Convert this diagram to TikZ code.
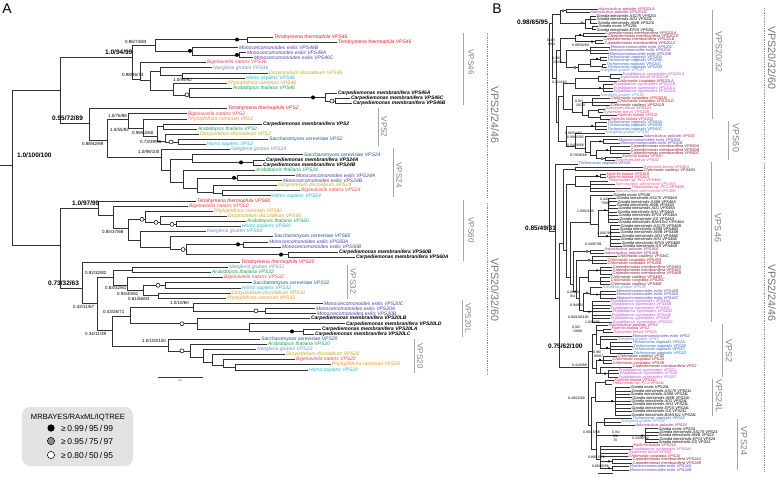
\documentclass[tikz,border=0pt]{standalone}
\usepackage{fontspec}
\setmainfont{Liberation Sans}
\usepackage{tikz}

% species colours, panel A
\definecolor{cAtet}{HTML}{E31A1C}
\definecolor{cAbig}{HTML}{F0454F}
\definecolor{cAmon}{HTML}{5238A8}
\definecolor{cAnae}{HTML}{6E8FD6}
\definecolor{cAdic}{HTML}{BFA512}
\definecolor{cAhom}{HTML}{1EB4D4}
\definecolor{cAphy}{HTML}{F7901E}
\definecolor{cAara}{HTML}{17A04C}
\definecolor{cAcar}{HTML}{000000}
\definecolor{cAsac}{HTML}{1E4EA0}
% species colours, panel B
\definecolor{cBadu}{HTML}{9E1E8C}
\definecolor{cBgia}{HTML}{000000}
\definecolor{cBgmu}{HTML}{000000}
\definecolor{cBcar}{HTML}{8A1538}
\definecolor{cBmon}{HTML}{5A3DB5}
\definecolor{cBtri}{HTML}{2E62C0}
\definecolor{cBnae}{HTML}{6A92DA}
\definecolor{cBerg}{HTML}{B94DD6}
\definecolor{cBdys}{HTML}{EC3E97}
\definecolor{cBccu}{HTML}{B3141E}
\definecolor{cBcca}{HTML}{5E2323}
\definecolor{cBkip}{HTML}{E81E52}
\definecolor{cBtre}{HTML}{E43670}
\definecolor{cBspi}{HTML}{F0559A}

\newcommand{\nmtet}{Tetrahymena thermophila}
\newcommand{\nmbig}{Bigelowiella natans}
\newcommand{\nmmon}{Monocercomonoides exilis}
\newcommand{\nmnae}{Naegleria gruberi}
\newcommand{\nmdic}{Dictyostelium discoideum}
\newcommand{\nmhom}{Homo sapiens}
\newcommand{\nmphy}{Phytophthora ramorum}
\newcommand{\nmara}{Arabidopsis thaliana}
\newcommand{\nmcar}{Carpediemonas membranifera}
\newcommand{\nmsac}{Saccharomyces cerevisiae}
\newcommand{\nmadu}{Aduncisulcus paluster}
\newcommand{\nmgia}{Giardia intestinalis}
\newcommand{\nmgmu}{Giardia muris}
\newcommand{\nmtri}{Trichomonas vaginalis}
\newcommand{\nmerg}{Ergobibamus cyprinoides}
\newcommand{\nmdys}{Dysnectes brevis}
\newcommand{\nmccu}{Chilomastix cuspidata}
\newcommand{\nmcca}{Chilomastix caulleryi}
\newcommand{\nmkip}{Kipferlia bialata}
\newcommand{\nmtre}{Trepomonas sp.\ PC1}
\newcommand{\nmspi}{Spironucleus salmonicida}
\newcommand{\fAcar}{\bfseries}

\tikzset{
  br/.style={draw=black!80, line width=0.6pt},
  brB/.style={draw=black!80, line width=0.5pt},
  lfA/.style={anchor=west, inner sep=0.8pt, font=\fontsize{5}{5.5}\selectfont\itshape},
  lfB/.style={anchor=west, inner sep=0.5pt, font=\fontsize{3.9}{4}\selectfont\itshape},
  supp/.style={anchor=west, inner sep=0pt, font=\fontsize{4.5}{5}\selectfont},
  suppB/.style={anchor=west, inner sep=0pt, font=\fontsize{3.5}{3.6}\selectfont},
  suppbf/.style={anchor=west, inner sep=0pt, font=\fontsize{6.5}{7}\selectfont\bfseries},
  cbar/.style={draw=black!35, line width=0.7pt},
  bigbar/.style={draw=black!45, line width=0.8pt, densely dotted},
  clab/.style={rotate=-90, inner sep=0pt, text=black!50, font=\fontsize{8}{9}\selectfont},
  clabB/.style={clab, font=\fontsize{9}{10}\selectfont},
  biglab/.style={rotate=-90, inner sep=0pt, text=black!55, font=\fontsize{10.7}{11}\selectfont},
  dotk/.style={fill=black},
  dotw/.style={draw=black, fill=white, line width=0.5pt},
}

\begin{document}
\begin{tikzpicture}[x=1pt,y=-1pt]
    \useasboundingbox (0,0) rectangle (778,476);
    \node[font=\fontsize{14}{14}\selectfont] (panA) at (7,9) {A};
    \node[font=\fontsize{14}{14}\selectfont] (panB) at (497,9) {B};

    % ---------------- panel A ----------------
    \begin{scope}[y=-5.12pt, yshift=-37pt]
    \foreach \n/\x/\k in {rA/12/25, u/60/10.5, v/60/40.6, n46/132/3.9, n46a/155/1.6, nTet/247/0.5,
        nMono/192/2.7, nMono2/239/3.5, n46b/140/8.2, nY/150/8.5, nNDH/160/6.7, nDH/182/7.5,
        nPAC/173/10.4, nAC/189/11.3, nC46/325/11.8, nC46b/335/12.5, nA224/89/16.8, nAB/107/20.2,
        nV2/128/16, nV2b/143/17.8, nV2c/157/19.4, nCA/163/17.5, nDSH/165/20.3, nSH/178/20.5,
        nV24/161/23.4, n24r/170/26, n24s/192/23.8, nC24/253/24.5, n24t/183/28.3, n24u/197/29.5,
        nM24/237/27.5, n24v/213/30.3, n24w/222/30.5, nV60/98/33.4, nV60b/113/34.8, nV60c/128/37.3,
        nA/145/35.6, nA2/160/36.2, nA3/176/36.6, nB60/140/39.8, nB2/170/41, nB3/186/41.5,
        nM60/243/40.5, nC60/288/42.5, nV2032/82/49, nW/97/52, nV32/113/47, nNA/132/45.5,
        nV32b/127/48.4, nV32c/143/49.5, nSH32/165/48.5, nDP/158/50.5, nX20/112/57.2, nL/130/54.5,
        nMono20/193/52.8, nM20b/265/53.5, nCL/197/56, nCL2/249/57, nCL3/303/57.5, n20/168/60.5,
        n20a/190/61.3, n20b/203/62.5, n20c/212/63.5, n20d/223/64.2, n20e/235/64.5}
        \coordinate (\n) at (\x,\k);
    \coordinate (rA0) at (0,25);
    \draw[br] (rA0) -- (rA);
    \foreach \p/\c in {rA/u, rA/v, u/n46, u/nA224, n46/n46a, n46/n46b, n46a/nTet, n46a/nMono,
        nMono/nMono2, n46b/nY, nY/nNDH, nY/nPAC, nNDH/nDH, nPAC/nAC, nAC/nC46, nC46/nC46b,
        nA224/nAB, nAB/nV2, nAB/nV24, nV2/nV2b, nV2b/nV2c, nV2c/nCA, nV2c/nDSH, nDSH/nSH,
        nV24/n24r, n24r/n24s, n24r/n24t, n24s/nC24, n24t/n24u, n24u/nM24, n24u/n24v, n24v/n24w,
        v/nV60, v/nV2032, nV60/nV60b, nV60b/nV60c, nV60c/nA, nV60c/nB60, nA/nA2, nA2/nA3,
        nB60/nB2, nB2/nB3, nB3/nM60, nB3/nC60, nV2032/nW, nW/nV32, nW/nX20, nV32/nNA, nV32/nV32b,
        nV32b/nV32c, nV32c/nSH32, nV32c/nDP, nX20/nL, nX20/n20, nL/nMono20, nL/nCL, nMono20/nM20b,
        nCL/nCL2, nCL2/nCL3, n20/n20a, n20a/n20b, n20b/n20c, n20c/n20d, n20d/n20e}
        \draw[br] (\p) |- (\c);
    \foreach \k/\x/\c/\g/\p in {0/273/tet/VPS46/nTet, 1/337/tet/VPS46/nTet, 2/238/mon/VPS46B/nMono,
        3/246/mon/VPS46A/nMono2, 4/253/mon/VPS46C/nMono2, 5/206/big/VPS46/n46b, 6/212/nae/VPS46/nNDH,
        7/268/dic/VPS46/nDH, 8/245/hom/VPS46/nDH, 9/227/phy/VPS46/nPAC, 10/232/ara/VPS46/nAC,
        11/337/car/VPS46A/nC46, 12/350/car/VPS46C/nC46b, 13/352/car/VPS46B/nC46b,
        14/227/tet/VPS2/nA224, 15/187/big/VPS2/nV2, 16/187/phy/VPS2/nV2b, 17/262/car/VPS2/nCA,
        18/197/ara/VPS2/nCA, 19/199/dic/VPS2/nDSH, 20/268/sac/VPS2/nSH, 21/206/hom/VPS2/nSH,
        22/230/nae/VPS24/nV24, 23/303/sac/VPS24/n24s, 24/265/car/VPS24A/nC24, 25/262/car/VPS24B/nC24,
        26/255/ara/VPS24/n24t, 27/295/mon/VPS24A/nM24, 28/282/mon/VPS24B/nM24, 29/277/dic/VPS24/n24v,
        30/300/big/VPS24/n24w, 31/271/hom/VPS24/n24w,
        32/196/tet/VPS60/nV60, 33/188/big/VPS60/nV60b, 34/213/phy/VPS60/nA, 35/227/dic/VPS60/nA2,
        36/246/ara/VPS60/nA3, 37/241/hom/VPS60/nA3, 38/206/nae/VPS60/nB60, 39/273/sac/VPS60/nB2,
        40/268/mon/VPS60A/nM60, 41/281/mon/VPS60B/nM60, 42/338/car/VPS60B/nC60, 43/355/car/VPS60A/nC60,
        44/240/tet/VPS20/nV2032, 45/228/nae/VPS32/nNA, 46/211/ara/VPS32/nNA, 47/223/big/VPS32/nV32b,
        48/252/sac/VPS32/nSH32, 49/241/hom/VPS32/nSH32, 50/231/dic/VPS32/nDP, 51/226/phy/VPS32/nDP,
        52/323/mon/VPS20C/nMono20, 53/315/mon/VPS20A/nM20b, 54/316/mon/VPS20B/nM20b,
        55/310/car/VPS20LB/nCL, 56/345/car/VPS20LD/nCL2, 57/321/car/VPS20LA/nCL3, 58/314/car/VPS20LC/nCL3,
        59/260/sac/VPS20/n20, 60/267/ara/VPS20/n20a, 61/256/nae/VPS20/n20b, 62/285/dic/VPS20/n20c,
        63/295/big/VPS20/n20d, 64/331/phy/VPS20/n20e, 65/308/hom/VPS20/n20e}{
        \node[lfA, text=cA\c] (ta\k) at (\x,\k) {\csname fA\c\endcsname\csname nm\c\endcsname\ \g};
        \draw[br] (\p) |- (ta\k.west);
    }
    \foreach \x/\k in {237/0.5, 190/2.7, 237/3.5, 313/11.8, 241/24.5, 234/27.5, 238/40.5, 281/42.5, 292/57.5}
        \fill[dotk] (\x,\k) circle (2pt);
    \foreach \x/\k in {187/11.3, 332/12.5, 171/20.5, 142/35.6, 156/36.2, 172/36.6, 183/41.5,
        158/48.5, 256/53.5, 182/56, 182/61.3}
        \filldraw[dotw] (\x,\k) circle (2pt);
    \end{scope}

    % support values, panel A
    \node[suppbf] (sa1) at (17,155) {1.0/100/100};
    \node[suppbf] (sa2) at (52,118) {0.95/72/89};
    \node[suppbf] (sa3) at (105,52) {1.0/94/99};
    \node[suppbf] (sa4) at (72,203) {1.0/97/99};
    \node[suppbf] (sa5) at (48,283) {0.73/32/63};
    \node[supp] (sa6) at (125,42) {0.86/74/83};
    \node[supp] (sa7) at (122,75) {0.98/46/73};
    \node[supp] (sa8) at (173,80) {1.0/99/92};
    \node[supp] (sa9) at (108,116) {1.0/76/88};
    \node[supp] (sa10) at (82,144) {0.88/42/69};
    \node[supp] (sa11) at (110,130) {1.0/55/92};
    \node[supp] (sa12) at (132,133) {0.98/62/60};
    \node[supp] (sa13) at (140,142) {0.73/39/96};
    \node[supp] (sa14) at (138,152) {1.0/99/100};
    \node[supp] (sa15) at (102,232) {0.85/37/68};
    \node[supp] (sa16) at (85,273) {0.92/32/82};
    \node[supp] (sa17) at (105,288) {0.83/32/61};
    \node[supp] (sa18) at (117,294) {0.94/40/61};
    \node[supp] (sa19) at (128,299) {0.61/56/83};
    \node[supp] (sa20) at (170,303) {1.0/10/60};
    \node[supp] (sa21) at (73,307) {0.42/11/67};
    \node[supp] (sa22) at (103,312) {0.43/26/71};
    \node[supp] (sa23) at (85,334) {0.34/11/39};
    \node[supp] (sa24) at (142,341) {1.0/100/100};

    % clade bars, panel A
    \draw[cbar] (463,33) -- (463,105);   \node[clab] (la1) at (471,62) {VPS46};
    \draw[cbar] (378,108) -- (378,146);  \node[clab] (la2) at (384,127) {VPS2};
    \draw[cbar] (393,148) -- (393,197);  \node[clab] (la3) at (399,175) {VPS24};
    \draw[cbar] (463,200) -- (463,261);  \node[clab] (la4) at (471,230) {VPS60};
    \draw[cbar] (347,265) -- (347,299);  \node[clab] (la5) at (353,281) {VPS32};
    \draw[cbar] (462,300) -- (462,337);  \node[clab] (la6) at (468,318) {VPS20L};
    \draw[cbar] (414,339) -- (414,373);  \node[clab] (la7) at (420,356) {VPS20};
    \draw[bigbar] (487,33) -- (487,198); \node[biglab] (la8) at (495,115) {VPS2/24/46};
    \draw[bigbar] (487,203) -- (487,375); \node[biglab] (la9) at (495,290) {VPS20/32/60};

    % scale bar and legend
    \draw[br] (158,377) -- (203,377);
    \node[inner sep=0pt, font=\fontsize{2.5}{3}\selectfont] (scA) at (180,381) {0.2};
    \fill[black!11, rounded corners=8pt] (22,407) rectangle (133,466);
    \node[inner sep=0pt, font=\fontsize{7.6}{8}\selectfont] (legT) at (78,417) {MRBAYES/RAxML/IQTREE};
    \fill[black] (51,428) circle (3.6pt);
    \filldraw[draw=black, fill=black!45, line width=0.5pt] (51,441) circle (3.6pt);
    \filldraw[draw=black, fill=white, line width=0.5pt] (51,455) circle (3.6pt);
    \node[anchor=west, inner sep=0pt, font=\fontsize{8.5}{9}\selectfont] (leg1) at (61,428) {≥\,0.99\,/\,95\,/\,99};
    \node[anchor=west, inner sep=0pt, font=\fontsize{8.5}{9}\selectfont] (leg2) at (61,441) {≥\,0.95\,/\,75\,/\,97};
    \node[anchor=west, inner sep=0pt, font=\fontsize{8.5}{9}\selectfont] (leg3) at (61,455) {≥\,0.80\,/\,50\,/\,95};

    % ---------------- panel B ----------------
    \begin{scope}[y=-3.44pt, yshift=-9pt]
    \foreach \n/\x/\k in {BR/549/34, B2060/552/4, BT1/560/1.5, BA/566/0.5, BG/585/4, BG1/590/3,
        BG2/592/5.5, BL1/556/20, B20a/560/12, BC/575/8.5, BC1/583/7.5, BC2/595/9.5, BMT/566/15.5,
        BM/590/12, BT/578/17, BTT/590/16, BT1b/600/14.5, BT2b/602/16.5, BL3/558/33, B32/563/25.5,
        BE/575/21.5, BE1/598/20, BE1a/610/19.5, BE2/603/23, BK/572/29, BK1/582/30, BCh/592/27,
        BDK/588/31, BD/598/29.5, BKb/600/31.5, B60/566/38.5, BT60/595/34, B60b/575/40, B60c/585/40.5,
        B60d/590/41.5, BM60/603/38.5, B60e/596/42.5, BC60/610/41, BKD/605/43.5,
        B46r/555/64.5, B46m/559/84, B46/563/68, BDC/575/46.5, B46b/566/70, BKTS/575/51, BK46/600/48.5,
        BTS/590/51.5, B46c/570/78, BG46/590/62, BG46b/598/62.5, BGa/608/58.5, BGb/610/66, B46d/573/80,
        BAd46/590/70.5, B46e/576/82, BCh46/592/73, B46f/579/84, BCC/588/78, BCa46/600/76, BCh46c/600/79,
        B46g/583/87.5, BNM/590/82.5, BM46/600/83, BE46/592/88, B224/588/104, BV2/592/99.5,
        BV2x/596/94.5, BKD2/603/93.5, BMNT/600/97.5, BT2/610/98.5, BV2y/596/104.5, BCh2/603/102,
        BCE/600/106, BE2b/608/106, BV24/591/121, BV24L/595/113, BKT/605/108.5, BG24L/615/114,
        BV24b/596/128, BTNA/604/120, BG24/645/124, B24e/600/131, BC24/612/131.5, BM24/612/133.5}
        \coordinate (\n) at (\x,\k);
    \foreach \p/\c in {BR/B2060, BR/B46r, B2060/BT1, B2060/BL1, BT1/BA, BT1/BG, BG/BG1, BG/BG2,
        BL1/B20a, BL1/BL3, B20a/BC, B20a/BMT, BC/BC1, BC/BC2, BMT/BM, BMT/BT, BT/BTT, BTT/BT1b,
        BTT/BT2b, BL3/B32, BL3/B60, B32/BE, B32/BK, BE/BE1, BE/BE2, BE1/BE1a, BK/BK1, BK1/BCh,
        BK1/BDK, BDK/BD, BDK/BKb, B60/BT60, B60/B60b, B60b/B60c, B60c/B60d, B60d/BM60, B60d/B60e,
        B60e/BC60, B60e/BKD, B46r/B46m, B46m/B46, B46m/B224, B46/BDC, B46/B46b, B46b/BKTS,
        B46b/B46c, BKTS/BK46, BKTS/BTS, B46c/BG46, B46c/B46d, BG46/BG46b, BG46b/BGa, BG46b/BGb,
        B46d/BAd46, B46d/B46e, B46e/BCh46, B46e/B46f, B46f/BCC, B46f/B46g, BCC/BCa46, BCC/BCh46c,
        B46g/BNM, B46g/BE46, BNM/BM46, B224/BV2, B224/BV24, BV2/BV2x, BV2/BV2y, BV2x/BKD2,
        BV2x/BMNT, BMNT/BT2, BV2y/BCh2, BV2y/BCE, BCE/BE2b, BV24/BV24L, BV24/BV24b, BV24L/BKT,
        BV24L/BG24L, BV24b/BTNA, BV24b/BG24, BV24b/B24e, B24e/BC24, B24e/BM24}
        \draw[brB] (\p) |- (\c);
    \foreach \k/\x/\c/\g/\p in {0/598/adu/VPS20LA/BA, 1/590/adu/VPS20LB/BA,
        2/596/gia/AS175 VPS20L/BG1, 3/596/gia/AD1 VPS20L/BG1, 4/597/gia/AWB VPS20L/BG1,
        5/598/gmu/VPS20L/BG2, 6/596/gia/EP15 VPS20L/BG2, 7/605/car/VPS20LA/BC1, 8/607/car/VPS20LD/BC1,
        9/603/car/VPS20LB/BC2, 10/604/car/VPS20LC/BC2, 11/610/mon/VPS20C/BM, 12/608/mon/VPS20A/BM,
        13/609/mon/VPS20B/BM, 14/607/tri/VPS20A/BT1b, 15/607/tri/VPS20B/BT1b, 16/606/tri/VPS20C/BT2b,
        17/607/tri/VPS20D/BT2b, 18/600/nae/VPS20/BT, 19/622/erg/VPS20LA/BE1a, 20/620/dys/VPS20LB/BE1a,
        21/617/ccu/VPS20LA/BE1, 22/613/erg/VPS20LB/BE2, 23/613/erg/VPS20LC/BE2, 24/613/erg/VPS20LD/BE2,
        25/600/nae/VPS32/BK, 26/610/ccu/VPS32LB/BCh, 27/617/ccu/VPS20LD/BCh, 28/610/cca/VPS20LB/BCh,
        29/605/dys/VPS32A/BD, 30/603/dys/VPS32B/BD, 31/617/kip/VPS32/BKb, 32/610/kip/VPS20A/BKb,
        33/607/tri/VPS60A/BT60, 34/607/tri/VPS60B/BT60, 35/607/tri/VPS60C/BT60, 36/605/nae/VPS60/B60b,
        37/643/adu/VPS60/B60c, 38/618/mon/VPS60A/BM60, 39/620/mon/VPS60B/BM60, 40/630/car/VPS60A/BC60,
        41/630/car/VPS60B/BC60, 42/630/car/VPS60C/BC60, 43/622/kip/VPS60/BKD, 44/615/dys/VPS60/BKD,
        45/578/tri/VPS46/B46r, 46/643/dys/VPS46A/BDC, 47/643/cca/VPS46B/BDC, 48/606/kip/VPS46B/BK46,
        49/606/kip/VPS46A/BK46, 50/608/tre/VPS46A/BTS, 51/615/spi/VPS46A/BTS, 52/631/tre/VPS46B/BTS,
        53/615/spi/VPS46B/BTS, 54/613/gmu/VPS46/BG46,
        55/616/gia/AS175 VPS46A/BGa, 56/617/gia/AS98 VPS46A/BGa, 57/616/gia/AWB VPS46A/BGa,
        58/618/gia/AD1 VPS46A/BGa, 59/617/gia/AH1 VPS46A/BGa, 60/618/gia/EP15 VPS46A/BGa,
        61/619/gia/GS VPS46A/BGa, 62/618/gia/BAH15c1 VPS46A/BGa, 63/620/gia/AS175 VPS46B/BGb,
        64/619/gia/AS98 VPS46B/BGb, 65/620/gia/AWB VPS46B/BGb, 66/621/gia/AD1 VPS46B/BGb,
        67/620/gia/AH1 VPS46B/BGb, 68/621/gia/EP15 VPS46B/BGb, 69/622/gia/GS VPS46B/BGb,
        70/604/adu/VPS46A/BAd46, 71/604/adu/VPS46B/BAd46, 72/617/cca/VPS46C/BCh46,
        73/607/ccu/VPS46A/BCh46, 74/607/ccu/VPS46B/BCh46, 75/612/car/VPS46A/BCa46,
        76/612/car/VPS46C/BCa46, 77/612/car/VPS46B/BCa46, 78/610/cca/VPS46D/BCh46c,
        79/610/ccu/VPS46C/BCh46c, 80/610/cca/VPS46E/BCh46c, 81/602/nae/VPS46/BNM,
        82/616/mon/VPS46B/BM46, 83/616/mon/VPS46A/BM46, 84/616/mon/VPS46C/BM46,
        85/610/erg/VPS46A/BE46, 86/611/erg/VPS46B/BE46, 87/610/erg/VPS46C/BE46, 88/612/erg/VPS46D/BE46,
        89/611/erg/VPS46E/BE46, 90/610/erg/VPS46F/BE46, 91/612/erg/VPS46G/BE46,
        92/608/adu/VPS2/BV2x, 93/611/kip/VPS2/BKD2, 94/613/dys/VPS2A/BKD2, 95/632/mon/VPS2/BMNT,
        96/617/nae/VPS2/BMNT, 97/632/tri/VPS2A/BT2, 98/633/tri/VPS2B/BT2, 99/632/tri/VPS2C/BT2,
        100/633/tri/VPS2D/BT2, 101/617/cca/VPS2/BCh2, 102/612/ccu/VPS2A/BCh2, 103/612/ccu/VPS2B/BCh2,
        104/632/car/VPS2/BCE, 105/618/erg/VPS2A/BE2b, 106/619/erg/VPS2B/BE2b, 107/618/erg/VPS2C/BE2b,
        108/614/kip/VPS24L/BKT, 109/612/tre/VPS24L/BKT, 110/630/gmu/VPS24L/BG24L,
        111/631/gia/AS175 VPS24L/BG24L, 112/630/gia/AS98 VPS24L/BG24L, 113/632/gia/AWB VPS24L/BG24L,
        114/631/gia/AD1 VPS24L/BG24L, 115/632/gia/AH1 VPS24L/BG24L, 116/631/gia/EP15 VPS24L/BG24L,
        117/632/gia/GS VPS24L/BG24L, 118/631/gia/BAH15c1 VPS24L/BG24L,
        119/632/tri/VPS24/BTNA, 120/621/nae/VPS24/BTNA, 121/635/adu/VPS24/BTNA,
        122/658/gmu/VPS24/BG24, 123/659/gia/AS175 VPS24/BG24, 124/658/gia/AWB VPS24/BG24,
        125/659/gia/EP15 VPS24/BG24, 126/658/gia/GS VPS24/BG24, 127/633/kip/VPS24A/B24e,
        128/631/erg/VPS24A/B24e, 129/628/dys/VPS24/B24e, 130/628/ccu/VPS24/B24e,
        131/632/car/VPS24A/BC24, 132/632/car/VPS24B/BC24, 133/629/mon/VPS24A/BM24, 134/629/mon/VPS24B/BM24}{
        \node[lfB, text=cB\c] (tb\k) at (\x,\k) {\csname nm\c\endcsname\ \g};
        \draw[brB] (\p) |- (tb\k.west);
    }
    \foreach \x/\k in {580/7.5, 592/9.5, 597/14.5, 600/23, 592/34, 600/38.5, 607/41, 597/48.5,
        605/58.5, 607/66, 597/76, 597/83, 589/88, 607/98.5, 600/102, 605/106, 612/114, 642/124,
        609/131.5, 609/133.5}
        \fill[dotk] (\x,\k) circle (1.2pt);
    \foreach \x/\k in {563/0.5, 582/4, 587/12, 575/17, 602/43.5, 587/70.5, 589/73, 587/82.5}
        \filldraw[dotw, line width=0.35pt] (\x,\k) circle (1.2pt);
    \end{scope}

    % support values, panel B
    \node[suppbf] (sb1) at (517,22) {0.98/65/95};
    \node[suppbf] (sb2) at (525,228) {0.85/49/31};
    \node[suppbf] (sb3) at (548,346) {0.75/62/100};
    \node[suppB] (sb4) at (547,40) {0.42/};
    \node[suppB] (sb5) at (548,44) {9/63};
    \node[suppB] (sb6) at (552,58) {0.38/};
    \node[suppB] (sb7) at (553,62) {10/24};
    \node[suppB] (sb8) at (572,45) {0.99/36/89};
    \node[suppB] (sb9) at (552,82) {0.21/4/63};
    \node[suppB] (sb10) at (575,101) {0.92/};
    \node[suppB] (sb11) at (576,105) {20/70};
    \node[suppB] (sb12) at (565,133) {0.96/54/87};
    \node[suppB] (sb13) at (567,137) {0.99/43/92};
    \node[suppB] (sb14) at (567,145) {0.54/28/66};
    \node[suppB] (sb15) at (570,155) {0.79/38/68};
    \node[suppB] (sb16) at (600,199) {0.44/};
    \node[suppB] (sb17) at (601,203) {79/88};
    \node[suppB] (sb18) at (577,211) {1.0/62/100};
    \node[suppB] (sb19) at (597,233) {1.0/97/98};
    \node[suppB] (sb20) at (585,244) {0.34/97/91};
    \node[suppB] (sb21) at (567,292) {0.80/13/};
    \node[suppB] (sb22) at (570,296) {/64};
    \node[suppB] (sb23) at (570,305) {0.94/65/};
    \node[suppB] (sb24) at (568,317) {0.80/100/100};
    \node[suppB] (sb25) at (585,322) {1.0/93/96};
    \node[suppB] (sb26) at (572,327) {0.92/};
    \node[suppB] (sb27) at (573,331) {19/86};
    \node[suppB] (sb28) at (593,352) {0.96/};
    \node[suppB] (sb29) at (594,356) {69/87};
    \node[suppB] (sb30) at (572,365) {0.41/0/88};
    \node[suppB] (sb31) at (568,398) {0.49/22/68};
    \node[suppB] (sb32) at (583,432) {0.96/15/68};
    \node[suppB] (sb33) at (612,432) {0.91/};
    \node[suppB] (sb34) at (613,436) {29/};
    \node[suppB] (sb35) at (613,440) {70};
    \node[suppB] (sb36) at (632,438) {0.33/92/92};
    \node[suppB] (sb37) at (588,457) {0.89/15/71};
    \node[suppB] (sb38) at (592,466) {0.86/35/56};

    % clade bars, panel B
    \draw[cbar] (712,10) -- (712,119);   \node[clabB] (lb1) at (719,52) {VPS20/32};
    \draw[cbar] (728,121) -- (728,160);  \node[clabB] (lb2) at (736,138) {VPS60};
    \draw[cbar] (711,162) -- (711,322);  \node[clabB] (lb3) at (718,228) {VPS46};
    \draw[cbar] (722,324) -- (722,377);  \node[clabB] (lb4) at (729,351) {VPS2};
    \draw[cbar] (712,379) -- (712,416);  \node[clabB] (lb5) at (719,396) {VPS24L};
    \draw[cbar] (737,419) -- (737,470);  \node[clabB] (lb6) at (744,441) {VPS24};
    \draw[bigbar] (764,8) -- (764,160);   \node[biglab] (lb7) at (772,58) {VPS20/32/60};
    \draw[bigbar] (764,163) -- (764,472); \node[biglab] (lb8) at (772,293) {VPS2/24/46};
    \draw[brB] (598,473) -- (613,473);
\end{tikzpicture}
\end{document}
